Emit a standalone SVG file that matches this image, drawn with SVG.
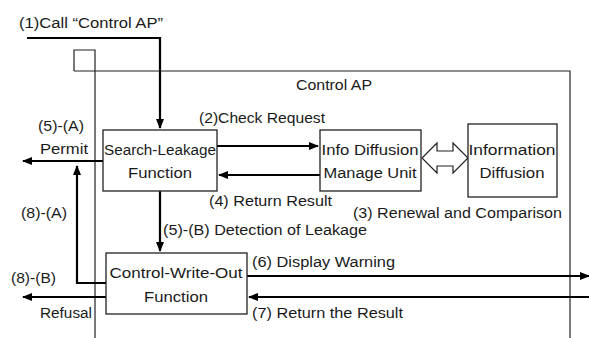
<svg xmlns="http://www.w3.org/2000/svg" width="589" height="338" viewBox="0 0 589 338">
<style>
text{font-family:"Liberation Sans",Arial,sans-serif;font-size:14px;fill:#1a1a1a}
.box{fill:#fff;stroke:#222;stroke-width:1.3}
.frame{fill:none;stroke:#222;stroke-width:1.2}
.c{fill:none;stroke:#000;stroke-width:2.2}
.m{text-anchor:middle}
</style>
<defs>
<marker id="ah" markerWidth="10" markerHeight="8" refX="9" refY="4" orient="auto" markerUnits="userSpaceOnUse">
<path d="M0,0 L10,4 L0,8 Z" fill="#000"/>
</marker>
</defs>
<rect width="589" height="338" fill="#fff"/>
<g id="frame">
<path class="frame" d="M74,71 V50 H95 V338"/>
<path class="frame" d="M74,71 H570 V338"/>
<text x="296" y="90" textLength="76" lengthAdjust="spacingAndGlyphs">Control AP</text>
</g>
<g id="connectors">
<path class="c" d="M27,38 H160 V128" marker-end="url(#ah)"/>
<path class="c" d="M217,146 H318" marker-end="url(#ah)"/>
<path class="c" d="M320,175 H219" marker-end="url(#ah)"/>
<path class="c" d="M103,161 H23" marker-end="url(#ah)"/>
<path class="c" d="M160,191 V251" marker-end="url(#ah)"/>
<path class="c" d="M106,283 H77 V166" marker-end="url(#ah)"/>
<path class="c" d="M106,297 H23" marker-end="url(#ah)"/>
<path class="c" d="M247,276 H589" marker-end="url(#ah)"/>
<path class="c" d="M589,297 H249" marker-end="url(#ah)"/>
<path d="M422,158 L437,143 V151 H453 V143 L468,158 L453,173 V166 H437 V173 Z" fill="#fff" stroke="#222" stroke-width="1.2"/>
<text x="19" y="28" textLength="144" lengthAdjust="spacingAndGlyphs">(1)Call “Control AP”</text>
<text x="199" y="123" textLength="126" lengthAdjust="spacingAndGlyphs">(2)Check Request</text>
<text x="353" y="218" textLength="209" lengthAdjust="spacingAndGlyphs">(3) Renewal and Comparison</text>
<text x="209" y="206" textLength="123" lengthAdjust="spacingAndGlyphs">(4) Return Result</text>
<text x="38" y="131" textLength="46" lengthAdjust="spacingAndGlyphs">(5)-(A)</text>
<text x="40" y="154" textLength="48" lengthAdjust="spacingAndGlyphs">Permit</text>
<text x="163" y="235" textLength="204" lengthAdjust="spacingAndGlyphs">(5)-(B) Detection of Leakage</text>
<text x="21" y="218" textLength="46" lengthAdjust="spacingAndGlyphs">(8)-(A)</text>
<text x="11" y="283" textLength="45" lengthAdjust="spacingAndGlyphs">(8)-(B)</text>
<text x="40" y="318" textLength="52" lengthAdjust="spacingAndGlyphs">Refusal</text>
<text x="252" y="267" textLength="143" lengthAdjust="spacingAndGlyphs">(6) Display Warning</text>
<text x="252" y="318" textLength="151" lengthAdjust="spacingAndGlyphs">(7) Return the Result</text>
</g>
<g id="search-leakage">
<rect class="box" x="103" y="130" width="114" height="61"/>
<text class="m" x="160" y="155" textLength="112" lengthAdjust="spacingAndGlyphs">Search-Leakage</text>
<text class="m" x="160" y="178" textLength="64" lengthAdjust="spacingAndGlyphs">Function</text>
</g>
<g id="info-diffusion-manage">
<rect class="box" x="320" y="130" width="101" height="61"/>
<text class="m" x="370" y="155" textLength="97" lengthAdjust="spacingAndGlyphs">Info Diffusion</text>
<text class="m" x="370" y="178" textLength="93" lengthAdjust="spacingAndGlyphs">Manage Unit</text>
</g>
<g id="information-diffusion">
<rect class="box" x="468" y="124" width="89" height="73"/>
<text class="m" x="512" y="155" textLength="87" lengthAdjust="spacingAndGlyphs">Information</text>
<text class="m" x="512" y="178" textLength="65" lengthAdjust="spacingAndGlyphs">Diffusion</text>
</g>
<g id="control-write-out">
<rect class="box" x="106" y="253" width="141" height="61"/>
<text class="m" x="176" y="278" textLength="133" lengthAdjust="spacingAndGlyphs">Control-Write-Out</text>
<text class="m" x="176" y="302" textLength="64" lengthAdjust="spacingAndGlyphs">Function</text>
</g>
</svg>
